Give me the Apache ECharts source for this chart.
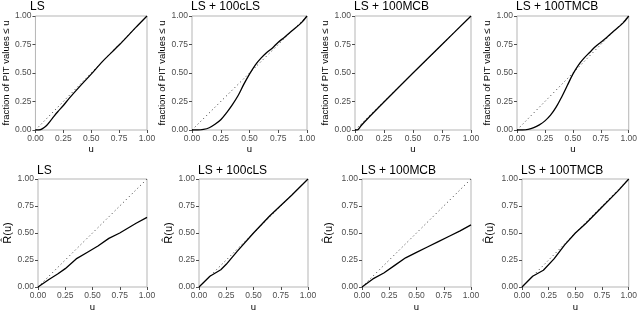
<!DOCTYPE html>
<html>
<head>
<meta charset="utf-8">
<script src="https://cdn.jsdelivr.net/npm/echarts@6/dist/echarts.min.js"></script>
<style>html,body{margin:0;padding:0;background:#fff}#c{width:640px;height:313px}</style>
</head>
<body>
<div id="c"></div>
<script>
// ---- data ----
const titles = ["LS", "LS + 100cLS", "LS + 100MCB", "LS + 100TMCB"];
const tickLabels = ["0.00", "0.25", "0.50", "0.75", "1.00"];
const diagU = [0, 1];
const diagY = [0, 1];

// top row: fraction of PIT values <= u
const pitU_LS   = [0, 0.03, 0.06, 0.1, 0.15, 0.2, 0.25, 0.3, 0.4, 0.5, 0.6, 0.75, 0.9, 1];
const pitY_LS   = [0, 0, 0.01, 0.04, 0.1, 0.16, 0.215, 0.275, 0.385, 0.49, 0.6, 0.745, 0.9, 1];
const pitU_cLS  = [0, 0.05, 0.1, 0.15, 0.2, 0.25, 0.3, 0.35, 0.4, 0.45, 0.5, 0.55, 0.6, 0.65, 0.7, 0.75, 0.8, 0.875, 0.95, 1];
const pitY_cLS  = [0, 0, 0.005, 0.02, 0.05, 0.09, 0.15, 0.22, 0.3, 0.4, 0.49, 0.57, 0.63, 0.68, 0.72, 0.77, 0.81, 0.875, 0.94, 1];
const pitU_MCB  = [0, 0.02, 0.05, 0.1, 0.25, 0.5, 0.75, 1];
const pitY_MCB  = [0, 0, 0.035, 0.09, 0.245, 0.5, 0.75, 1];
const pitU_TMCB = [0, 0.05, 0.1, 0.15, 0.2, 0.25, 0.3, 0.35, 0.4, 0.45, 0.5, 0.55, 0.6, 0.65, 0.7, 0.75, 0.8, 0.875, 0.95, 1];
const pitY_TMCB = [0, 0, 0.005, 0.02, 0.045, 0.08, 0.13, 0.2, 0.29, 0.39, 0.49, 0.57, 0.63, 0.68, 0.73, 0.77, 0.81, 0.875, 0.94, 1];

// bottom row: R-hat(u)
const rU_LS   = [0, 0.1, 0.18, 0.25, 0.35, 0.45, 0.55, 0.65, 0.75, 0.9, 1];
const rY_LS   = [0, 0.07, 0.12, 0.17, 0.26, 0.32, 0.38, 0.45, 0.5, 0.59, 0.645];
const rU_cLS  = [0, 0.1, 0.2, 0.25, 0.35, 0.5, 0.65, 0.85, 1];
const rY_cLS  = [0, 0.1, 0.16, 0.21, 0.33, 0.5, 0.66, 0.85, 1];
const rU_MCB  = [0, 0.1, 0.2, 0.3, 0.4, 0.5, 0.6, 0.7, 0.8, 0.9, 1];
const rY_MCB  = [0, 0.075, 0.13, 0.2, 0.27, 0.32, 0.37, 0.42, 0.47, 0.52, 0.575];
const rU_TMCB = [0, 0.1, 0.2, 0.3, 0.4, 0.5, 0.6, 0.75, 0.9, 1];
const rY_TMCB = [0, 0.1, 0.155, 0.26, 0.39, 0.5, 0.59, 0.74, 0.89, 1];

const yNameTop = "fraction of PIT values \u2264 u";
const yNameBottom = "R\u0302(u)";

// ---- layout ----
const FONT = "Liberation Sans, Arial, sans-serif";
const panels = [
  {u: pitU_LS,   y: pitY_LS,   t: 0, left: 31,  top: 16,  w: 116, h: 114, yName: yNameTop, gap: 21, smooth: 0.3, row: 0},
  {u: pitU_cLS,  y: pitY_cLS,  t: 1, left: 192, top: 16,  w: 115, h: 114, yName: yNameTop, gap: 22, smooth: 0.35, row: 0},
  {u: pitU_MCB,  y: pitY_MCB,  t: 2, left: 355, top: 16,  w: 116, h: 114, yName: yNameTop, gap: 23, smooth: 0.3, row: 0},
  {u: pitU_TMCB, y: pitY_TMCB, t: 3, left: 517, top: 16,  w: 115, h: 114, yName: yNameTop, gap: 25, smooth: 0.35, row: 0},
  {u: rU_LS,   y: rY_LS,   t: 0, left: 38,  top: 179, w: 109, h: 112, yName: yNameBottom, gap: 23, smooth: false, row: 1},
  {u: rU_cLS,  y: rY_cLS,  t: 1, left: 199, top: 179, w: 109, h: 112, yName: yNameBottom, gap: 24, smooth: false, row: 1},
  {u: rU_MCB,  y: rY_MCB,  t: 2, left: 362, top: 179, w: 109, h: 112, yName: yNameBottom, gap: 28, smooth: false, row: 1},
  {u: rU_TMCB, y: rY_TMCB, t: 3, left: 522, top: 179, w: 110, h: 112, yName: yNameBottom, gap: 27, smooth: false, row: 1}
];

const zip = (a, b) => a.map((v, i) => [v, b[i]]);
const fmt = v => tickLabels[Math.round(v / 0.25)];

const option = {
  animation: false,
  backgroundColor: "#fff",
  title: [], grid: [], xAxis: [], yAxis: [], series: []
};

panels.forEach((p, i) => {
  option.title.push({
    text: titles[p.t], left: p.left - 1, top: p.top - (p.row === 0 ? 15 : 14),
    textStyle: {fontFamily: FONT, fontSize: 12, fontWeight: "normal", color: "#000"},
    padding: 0
  });
  option.grid.push({
    left: p.left, top: p.top, width: p.w, height: p.h,
    show: true, borderColor: "#b5b5b5", borderWidth: 1, backgroundColor: "#fff"
  });
  const axisCommon = {
    type: "value", min: 0, max: 1, interval: 0.25,
    gridIndex: i,
    axisLine: {show: false},
    axisTick: {show: true, length: 3, lineStyle: {color: "#4d4d4d", width: 1}},
    splitLine: {show: false},
    nameLocation: "middle"
  };
  const labelStyle = {formatter: fmt, fontSize: 8.5, color: "#4d4d4d", margin: 4, fontFamily: FONT, showMinLabel: true, showMaxLabel: true};
  option.xAxis.push(Object.assign({}, axisCommon, {
    name: "u", nameGap: p.row === 0 ? 13 : 15,
    nameTextStyle: {fontFamily: FONT, color: "#000", fontSize: 9.5},
    axisLabel: labelStyle
  }));
  option.yAxis.push(Object.assign({}, axisCommon, {
    name: p.yName, nameGap: p.gap,
    nameTextStyle: {fontFamily: FONT, color: "#000", fontSize: p.row === 0 ? 9.5 : 11},
    axisLabel: labelStyle
  }));
  option.series.push({
    type: "line", xAxisIndex: i, yAxisIndex: i,
    data: zip(diagU, diagY), symbol: "none", silent: true,
    lineStyle: {color: "#333", width: 1, type: [1, 3]}
  });
  option.series.push({
    type: "line", xAxisIndex: i, yAxisIndex: i,
    data: zip(p.u, p.y), symbol: "none", smooth: p.smooth,
    lineStyle: {color: "#000", width: 1.3}
  });
});

const chart = echarts.init(document.getElementById("c"), null, {renderer: "canvas"});
chart.setOption(option);
</script>
</body>
</html>
